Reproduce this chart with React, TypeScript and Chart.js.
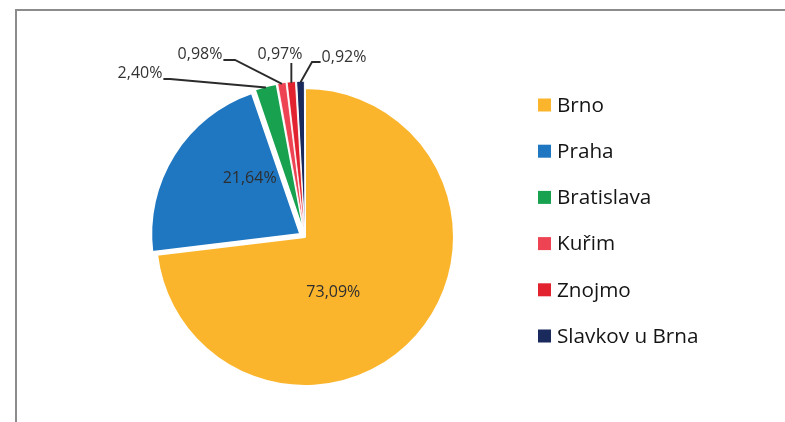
import React, { useEffect, useRef } from "react";
import { Chart, registerables } from "chart.js";

Chart.register(...registerables);

const categories = ["Brno", "Praha", "Bratislava", "Kuřim", "Znojmo", "Slavkov u Brna"];
const shares = [73.09, 21.64, 2.4, 0.98, 0.97, 0.92];
const sliceColors = ["#FBB52C", "#1F76C1", "#18A250", "#EE4352", "#E2232F", "#1B2A5C"];
const sliceOffsets = [0, 22, 14, 14, 14, 14];
const sliceBorders = [2, 2, 1.5, 0.8, 0.8, 1];

// label placement: inside labels (fraction of radius) or outside (px offsets from pie centre with elbow)
type LabelPlace =
  | { kind: "in"; fx: number; fy: number }
  | { kind: "out"; tx: number; ty: number; ex: number | null; ey: number };
const labelPlaces: LabelPlace[] = [
  { kind: "in", fx: 0.19, fy: 0.37 },
  { kind: "in", fx: -0.34, fy: -0.37 },
  { kind: "out", tx: -165, ty: -164, ex: -135, ey: -158 },
  { kind: "out", tx: -105, ty: -183, ex: -70, ey: -177 },
  { kind: "out", tx: -25, ty: -183, ex: null, ey: -174 },
  { kind: "out", tx: 39, ty: -180, ex: 7, ey: -175 },
];

const fmt = (v: number) => v.toFixed(2).replace(".", ",") + "%";

const labelPlugin = {
  id: "pieLabels",
  afterDraw(chart: any) {
    const ctx: CanvasRenderingContext2D = chart.ctx;
    const meta = chart.getDatasetMeta(0);
    const area = chart.chartArea;
    const cx = (area.left + area.right) / 2;
    const cy = (area.top + area.bottom) / 2;
    ctx.save();
    ctx.font = "16px 'Open Sans'";
    ctx.textAlign = "center";
    ctx.textBaseline = "middle";
    meta.data.forEach((arc: any, i: number) => {
      const p = arc.getProps(["x", "y", "startAngle", "endAngle", "outerRadius", "circumference"], true);
      const off = (arc.options.offset || 0) / 4;
      const mid = (p.startAngle + p.endAngle) / 2;
      const fix = 1 - Math.sin(Math.min(Math.PI, p.circumference));
      const ax = p.x + Math.cos(mid) * off;
      const ay = p.y + Math.sin(mid) * off;
      const r = p.outerRadius + off * fix;
      const place = labelPlaces[i];
      const text = fmt(shares[i]);
      if (place.kind === "in") {
        ctx.fillStyle = "#2e2e2e";
        ctx.fillText(text, ax + place.fx * r, ay + place.fy * r);
      } else {
        const tx = cx + place.tx;
        const ty = cy + place.ty;
        ctx.fillStyle = "#333333";
        ctx.fillText(text, tx, ty);
        const w = ctx.measureText(text).width;
        const px = ax + Math.cos(mid) * (r - 1);
        const py = ay + Math.sin(mid) * (r - 1);
        const ex = place.ex === null ? px : cx + place.ex;
        const ey = cy + place.ey;
        let sx: number, sy: number;
        if (ex > tx + w / 2) {
          sx = tx + w / 2 + 1;
          sy = ey;
        } else if (ex < tx - w / 2) {
          sx = tx - w / 2 - 1;
          sy = ey;
        } else {
          sx = ex;
          sy = ey;
        }
        ctx.strokeStyle = "#2b2b2b";
        ctx.lineWidth = 1.9;
        ctx.beginPath();
        ctx.moveTo(sx, sy);
        ctx.lineTo(ex, ey);
        ctx.lineTo(px, py);
        ctx.stroke();
      }
    });
    // legend
    const lx = 538;
    const ly0 = 105;
    const gap = 46.2;
    const box = 13;
    ctx.textAlign = "left";
    ctx.font = "20.7px 'Open Sans'";
    categories.forEach((c, i) => {
      const y = ly0 + i * gap;
      ctx.fillStyle = sliceColors[i];
      ctx.fillRect(lx, y - box / 2, box, box);
      ctx.fillStyle = "#151515";
      ctx.fillText(c, lx + 19, y + 1);
    });
    ctx.restore();
  },
};

export default function App() {
  const ref = useRef<HTMLCanvasElement>(null);
  useEffect(() => {
    if (!ref.current) return;
    const chart = new Chart(ref.current, {
      type: "pie",
      data: {
        labels: categories,
        datasets: [
          {
            data: shares,
            backgroundColor: sliceColors,
            borderColor: "#ffffff",
            borderWidth: sliceBorders,
            offset: sliceOffsets,
          },
        ],
      },
      options: {
        responsive: false,
        animation: false,
        radius: 149,
        layout: { padding: { left: 0, right: 175, top: 52, bottom: 0 } },
        plugins: { legend: { display: false }, tooltip: { enabled: false } },
      } as any,
      plugins: [labelPlugin],
    });
    return () => chart.destroy();
  }, []);
  return (
    <div>
      <div
        style={{
          position: "absolute",
          left: 15,
          top: 9,
          width: 768,
          height: 411,
          borderLeft: "2px solid #8c8c8c",
          borderTop: "2px solid #8c8c8c",
          borderBottom: "1px solid #ececec",
          boxSizing: "content-box",
        }}
      />
      <canvas
        ref={ref}
        width={785}
        height={422}
        style={{ position: "absolute", left: 0, top: 0, width: 785, height: 422 }}
      />
    </div>
  );
}
